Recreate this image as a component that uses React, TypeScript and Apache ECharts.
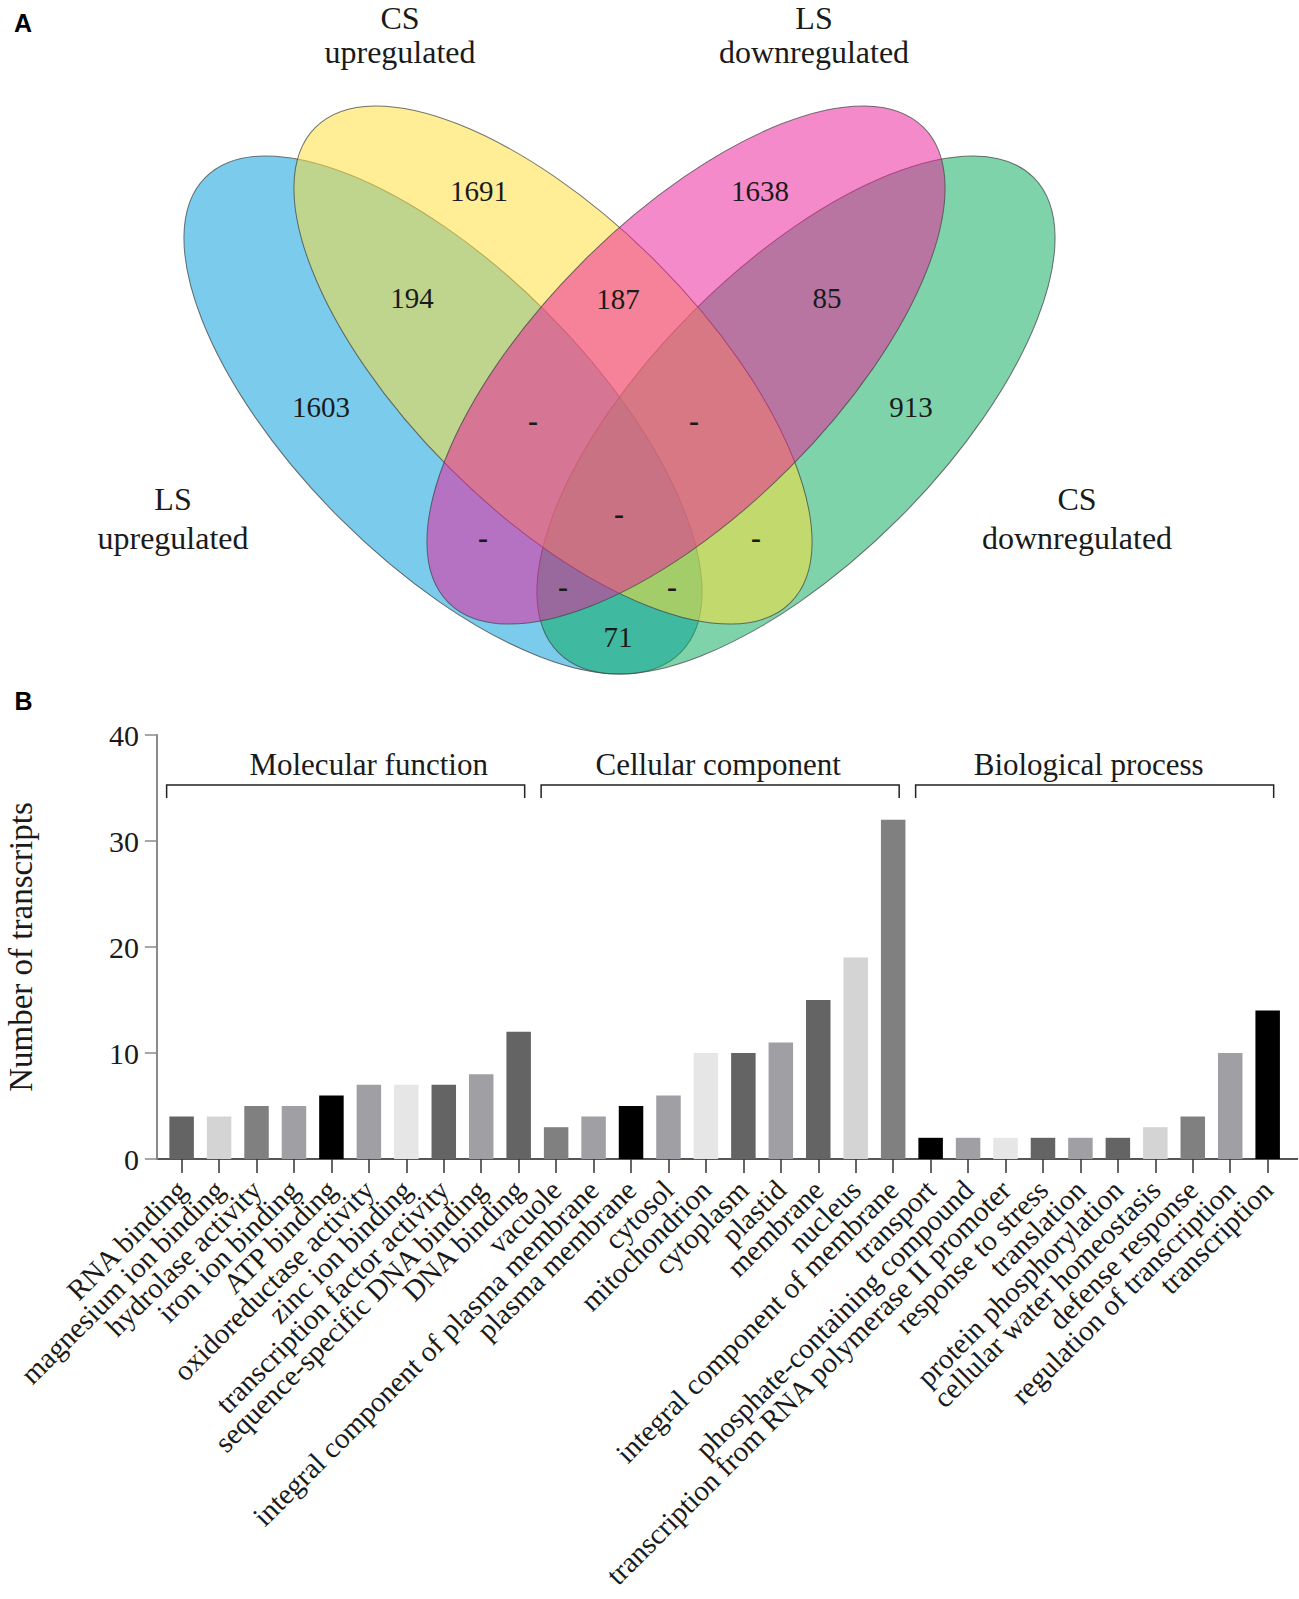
import React, { useEffect, useRef } from "react";
import * as echarts from "echarts";

// ---------- Panel B data ----------
const categories = [
  "RNA binding",
  "magnesium ion binding",
  "hydrolase activity",
  "iron ion binding",
  "ATP binding",
  "oxidoreductase activity",
  "zinc ion binding",
  "transcription factor activity",
  "sequence-specific DNA binding",
  "DNA binding",
  "vacuole",
  "integral component of plasma membrane",
  "plasma membrane",
  "cytosol",
  "mitochondrion",
  "cytoplasm",
  "plastid",
  "membrane",
  "nucleus",
  "integral component of membrane",
  "transport",
  "phosphate-containing compound",
  "transcription from RNA polymerase II promoter",
  "response to stress",
  "translation",
  "protein phosphorylation",
  "cellular water homeostasis",
  "defense response",
  "regulation of transcription",
  "transcription",
];
const counts = [4, 4, 5, 5, 6, 7, 7, 7, 8, 12, 3, 4, 5, 6, 10, 10, 11, 15, 19, 32, 2, 2, 2, 2, 2, 2, 3, 4, 10, 14];
const barColors = [
  "#646464", "#d4d4d4", "#808080", "#a0a0a4", "#000000", "#a0a0a4", "#e6e6e6", "#646464", "#a0a0a4", "#646464",
  "#808080", "#a0a0a4", "#000000", "#a0a0a4", "#e6e6e6", "#646464", "#a0a0a4", "#646464", "#d4d4d4", "#808080",
  "#000000", "#a0a0a4", "#e6e6e6", "#646464", "#a0a0a4", "#646464", "#d4d4d4", "#808080", "#a0a0a4", "#000000",
];
const groupNames = ["Molecular function", "Cellular component", "Biological process"];
const groupStart = [0, 10, 20];
const groupEnd = [9, 19, 29];
const yMin = 0;
const yMax = 40;
const yStep = 10;
const yName = "Number of transcripts";

// ---------- Panel A data ----------
const setNames = [
  ["LS", "upregulated"],
  ["CS", "upregulated"],
  ["LS", "downregulated"],
  ["CS", "downregulated"],
];
const regionLabels = ["1691", "1638", "194", "187", "85", "1603", "913", "-", "-", "-", "-", "-", "-", "-", "71"];

// ---------- layout (positions / styles) ----------
const FONT = "'Liberation Serif', 'Times New Roman', serif";
const SANS = "'Liberation Sans', Arial, sans-serif";
const TXT = "#1a1a1a";

const ellipseA = 336;
const ellipseB = 146;
// draw order: blue, green, yellow, pink  (set index 0,3,1,2)
const ellipseLayout = [
  { set: 0, x: 443, y: 415, rot: -Math.PI / 4, fill: "rgba(0,155,218,0.52)" },
  { set: 3, x: 796, y: 415, rot: Math.PI / 4, fill: "rgba(9,170,92,0.52)" },
  { set: 1, x: 553, y: 365, rot: -Math.PI / 4, fill: "rgba(255,222,53,0.52)" },
  { set: 2, x: 686, y: 365, rot: Math.PI / 4, fill: "rgba(236,30,155,0.52)" },
];
const setLabelPos = [
  [173, 499],
  [400, 18],
  [814, 18],
  [1077, 499],
];
const setLabelLineGap = [39, 34, 34, 39];
const regionPos = [
  [479, 191], [760, 191], [412, 298], [618, 299], [827, 298], [321, 407], [911, 407],
  [533, 420], [694, 420], [619, 513], [483, 537], [756, 537], [563, 586], [672, 586], [618, 637],
];
const groupTitleOffset = [23, -2, -6];

const GRID_LEFT = 162.9;
const GRID_RIGHT = 12.6;
const GRID_TOP = 735;
const GRID_H = 424;
const Y_OFFSET = 6;

export default function App() {
  const ref = useRef<HTMLDivElement>(null);

  useEffect(() => {
    document.body.style.margin = "0";
    if (!ref.current) return;
    const chart = echarts.init(ref.current, undefined, { renderer: "svg" });

    chart.setOption({
      animation: false,
      backgroundColor: "#ffffff",
      grid: {
        left: GRID_LEFT,
        right: GRID_RIGHT,
        top: GRID_TOP,
        height: GRID_H,
        containLabel: false,
        outerBoundsMode: "none",
      },
      xAxis: {
        type: "category",
        data: categories,
        axisLine: { show: true, lineStyle: { color: "#555555", width: 2 } },
        axisTick: { show: true, alignWithLabel: true, length: 14, lineStyle: { color: "#333333", width: 1.5 } },
        axisLabel: { interval: 0, rotate: 45, margin: 26, fontSize: 29, fontFamily: FONT, color: TXT },
        splitLine: { show: false },
      },
      yAxis: {
        type: "value",
        min: yMin,
        max: yMax,
        interval: yStep,
        offset: Y_OFFSET,
        axisLine: { show: true, lineStyle: { color: "#8a8a8a", width: 2 } },
        axisTick: { show: true, length: 12, lineStyle: { color: "#8a8a8a", width: 1.5 } },
        splitLine: { show: false },
        axisLabel: { fontSize: 30, fontFamily: FONT, color: TXT, margin: 18 },
        name: yName,
        nameLocation: "middle",
        nameRotate: 90,
        nameGap: 119,
        nameTextStyle: { fontSize: 33, fontFamily: FONT, color: TXT },
      },
      series: [
        {
          type: "bar",
          barWidth: 24.5,
          data: counts.map((v, i) => ({ value: v, itemStyle: { color: barColors[i] } })),
        },
      ],
    });

    const px = (i: number) => chart.convertToPixel({ xAxisIndex: 0 }, i) as number;
    const py = (v: number) => chart.convertToPixel({ yAxisIndex: 0 }, v) as number;
    const y0 = py(0);
    const yAxisX = GRID_LEFT - Y_OFFSET;
    const gridRightX = 1299 - GRID_RIGHT;

    const graphic: any[] = [];

    // Venn ellipses
    ellipseLayout.forEach((e) => {
      graphic.push({
        type: "ellipse",
        x: e.x,
        y: e.y,
        rotation: e.rot,
        shape: { cx: 0, cy: 0, rx: ellipseA, ry: ellipseB },
        style: { fill: e.fill, stroke: "rgba(70,70,70,0.75)", lineWidth: 1 },
        silent: true,
      });
    });
    // Venn set labels
    setNames.forEach((lines, i) => {
      const [cx, cy] = setLabelPos[i];
      lines.forEach((t, k) => {
        graphic.push({
          type: "text",
          x: cx,
          y: cy + k * setLabelLineGap[i],
          style: {
            text: t, fontSize: 32, fontFamily: FONT, fill: TXT,
            align: "center", verticalAlign: "middle", textAlign: "center", textVerticalAlign: "middle",
          },
          silent: true,
        });
      });
    });
    // Venn region counts
    regionLabels.forEach((t, i) => {
      const [cx, cy] = regionPos[i];
      graphic.push({
        type: "text",
        x: cx,
        y: cy,
        style: {
          text: t, fontSize: t === "-" ? 30 : 29, fontFamily: FONT, fill: TXT,
          fontWeight: t === "-" ? "bold" : "normal",
          align: "center", verticalAlign: "middle", textAlign: "center", textVerticalAlign: "middle",
        },
        silent: true,
      });
    });

    // Panel letters
    [["A", 23, 23], ["B", 23.5, 701]].forEach(([t, x, y]) => {
      graphic.push({
        type: "text",
        x, y,
        style: {
          text: t, fontSize: 25, fontWeight: "bold", fontFamily: SANS, fill: "#000",
          align: "center", verticalAlign: "middle", textAlign: "center", textVerticalAlign: "middle",
        },
      });
    });

    // x-axis line extensions
    graphic.push({ type: "line", shape: { x1: yAxisX - 1, y1: y0, x2: GRID_LEFT, y2: y0 }, style: { stroke: "#555555", lineWidth: 2 } });
    graphic.push({ type: "line", shape: { x1: gridRightX, y1: y0, x2: 1298, y2: y0 }, style: { stroke: "#555555", lineWidth: 2 } });

    // Group brackets and titles
    groupNames.forEach((name, g) => {
      const x1 = px(groupStart[g]) - 15;
      const x2 = px(groupEnd[g]) + 6;
      graphic.push({
        type: "polyline",
        shape: { points: [[x1, 798], [x1, 785], [x2, 785], [x2, 798]] },
        style: { stroke: "#222222", lineWidth: 1.5, fill: "none" },
      });
      graphic.push({
        type: "text",
        x: (x1 + x2) / 2 + groupTitleOffset[g],
        y: 764,
        style: {
          text: name, fontSize: 31, fontFamily: FONT, fill: TXT,
          align: "center", verticalAlign: "middle", textAlign: "center", textVerticalAlign: "middle",
        },
      });
    });

    chart.setOption({ graphic });

    return () => chart.dispose();
  }, []);

  return <div ref={ref} style={{ width: 1299, height: 1599 }} />;
}
